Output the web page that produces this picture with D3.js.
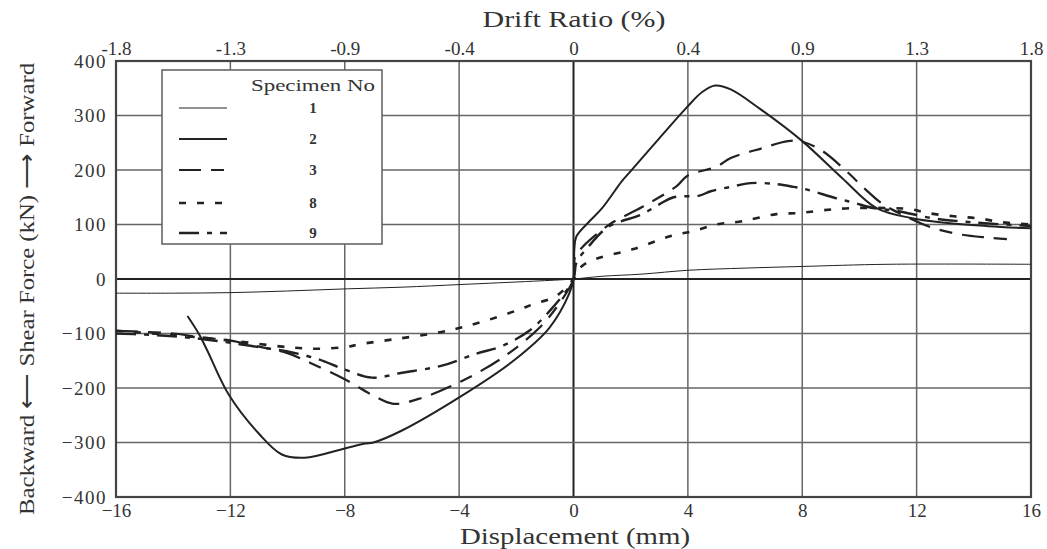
<!DOCTYPE html>
<html><head><meta charset="utf-8">
<script src="https://cdn.jsdelivr.net/npm/d3@7"></script>
<style>
html,body{margin:0;padding:0;background:#fff;}
svg{display:block;}
svg text{font-family:"Times New Roman","Liberation Serif",Tinos,serif !important;fill:#333;}
</style></head>
<body>
<svg id="chart" width="1047" height="549"></svg>
<script>
// ---- data (displacement mm, shear force kN) ----
const xTicks = [-16, -12, -8, -4, 0, 4, 8, 12, 16];
const driftLabels = ["-1.8", "-1.3", "-0.9", "-0.4", "0", "0.4", "0.9", "1.3", "1.8"];
const yTicks = [-400, -300, -200, -100, 0, 100, 200, 300, 400];
const specimens = ["1", "2", "3", "8", "9"];

const s1 = [[-16,-26],[-14,-26],[-12,-25],[-10,-22],[-7.9,-18],[-6,-15],[-3.9,-10],[-1.4,-4],[0,0],[1,5],[2.4,9],[4,16],[6,20],[8,23],[11,27],[16,27]];
const s2 = [[-13.5,-68],[-13.1,-101],[-12.8,-132],[-12.07,-211],[-11,-284],[-10.2,-322],[-9.4,-328],[-8,-311],[-7.3,-302],[-7,-300],[-6,-278],[-3.9,-214],[-2.1,-150],[-0.85,-90],[-0.15,-27],[0,0],[0.03,55],[0.1,78],[0.56,106],[1,130],[1.7,180],[2,198],[3,258],[3.93,313],[4.5,343],[4.95,355],[5.5,348],[6.5,313],[8,253],[9.4,185],[10.6,130],[11.8,112],[13,103],[14.5,97],[16,93]];
const s3 = [[-16,-95],[-15,-97],[-14,-100],[-13,-107],[-12,-113],[-11,-124],[-10,-136],[-9.2,-154],[-8,-184],[-7,-214],[-6.3,-229],[-5.3,-218],[-3.9,-187],[-2.5,-145],[-1.2,-90],[-0.5,-45],[0,0],[0.05,40],[0.3,58],[1.26,100],[2.4,132],[3.6,170],[4,190],[5,206],[5.5,222],[6.6,240],[7.5,253],[8,252],[8.7,235],[9.5,200],[10.2,165],[10.8,138],[11.5,118],[12.5,95],[13.5,82],[14.5,76],[15.5,72]];
const s8 = [[-16,-95],[-14,-103],[-12,-113],[-10,-125],[-9,-128],[-8,-125],[-7.4,-119],[-6.2,-110],[-4.8,-99],[-4,-90],[-3.1,-77],[-2,-58],[-1.4,-46],[-0.6,-31],[0,0],[0.3,24],[0.8,37],[2.1,55],[3.4,79],[4.2,88],[5,100],[5.9,106],[7.1,119],[7.9,121],[8.7,126],[9.7,130],[11.1,130],[11.8,128],[12.4,121],[13.3,115],[14.2,111],[15,104],[16,100]];
const s9 = [[-16,-100],[-15,-102],[-14,-105],[-13,-110],[-12,-117],[-11,-125],[-10,-133],[-9,-146],[-8,-166],[-7.05,-181],[-6,-172],[-4.6,-159],[-3.4,-137],[-2.5,-123],[-1.55,-95],[-0.74,-53],[0,0],[0.1,30],[0.5,58],[1.2,95],[2.4,119],[3,137],[3.5,150],[4.4,153],[4.8,161],[5.5,169],[6.2,176],[7.1,174],[7.7,169],[8.1,165],[9.2,148],[9.8,140],[10.5,130],[11.3,125],[12.5,112],[13.5,106],[14.5,102],[16,97]];

const seriesData = [s1, s2, s3, s8, s9];
const seriesStyle = [
  {w:1.0, dash:null},
  {w:2.0, dash:null},
  {w:2.2, dash:"22,10,13,10"},
  {w:2.6, dash:"7,11"},
  {w:2.4, dash:"20,8,5,8"}
];

// ---- layout ----
const svg = d3.select("#chart");
const L = 116, R = 1031, T = 61, B = 497;
const x = d3.scaleLinear().domain([-16, 16]).range([L, R]);
const y = d3.scaleLinear().domain([-400, 400]).range([B, T]);

// grid
const grid = svg.append("g");
grid.selectAll("line.v").data(xTicks).join("line")
  .attr("x1", d => x(d)).attr("x2", d => x(d)).attr("y1", T).attr("y2", B)
  .attr("stroke", d => d === 0 ? "#222" : "#666")
  .attr("stroke-width", d => d === 0 ? 2 : 1.5);
grid.selectAll("line.h").data(yTicks).join("line")
  .attr("x1", L).attr("x2", R).attr("y1", d => y(d)).attr("y2", d => y(d))
  .attr("stroke", d => d === 0 ? "#222" : "#666")
  .attr("stroke-width", d => d === 0 ? 2.2 : 1.5);

// frame
svg.append("rect").attr("x", L).attr("y", T).attr("width", R - L).attr("height", B - T)
  .attr("fill", "none").attr("stroke", "#444").attr("stroke-width", 2.2);

// axes
const axB = d3.axisBottom(x).tickValues(xTicks).tickSize(0).tickPadding(7).tickFormat(d3.format("d"));
const gB = svg.append("g").attr("transform", `translate(0,${B})`).call(axB);
const axT = d3.axisTop(x).tickValues(xTicks).tickSize(0).tickPadding(6).tickFormat((d, i) => driftLabels[i]);
const gT = svg.append("g").attr("transform", `translate(0,${T})`).call(axT);
const axL = d3.axisLeft(y).tickValues(yTicks).tickSize(0).tickPadding(9).tickFormat(d3.format("d"));
const gL = svg.append("g").attr("transform", `translate(${L},0)`).call(axL);
[gB, gT, gL].forEach(g => {
  g.select(".domain").remove();
  g.selectAll("text").attr("font-size", 19).attr("fill", "#333");
});
gL.selectAll("text").attr("letter-spacing", 1.5);

// titles
svg.append("text").attr("x", 574).attr("y", 27).attr("text-anchor", "middle")
  .attr("font-size", 23).attr("textLength", 183).attr("lengthAdjust", "spacingAndGlyphs").text("Drift Ratio (%)");
svg.append("text").attr("x", 575).attr("y", 544).attr("text-anchor", "middle")
  .attr("font-size", 23).attr("textLength", 230).attr("lengthAdjust", "spacingAndGlyphs").text("Displacement (mm)");
svg.append("text").attr("transform", "translate(34,289) rotate(-90)").attr("text-anchor", "middle")
  .attr("font-size", 22).attr("textLength", 452).attr("lengthAdjust", "spacingAndGlyphs")
  .text("Backward \u27F5 Shear Force (kN) \u27F6 Forward");

// curves
const line = d3.line().x(d => x(d[0])).y(d => y(d[1])).curve(d3.curveCatmullRom.alpha(0.5));
const gC = svg.append("g");
seriesData.forEach((s, i) => {
  gC.append("path").datum(s).attr("d", line)
    .attr("fill", "none").attr("stroke", "#222")
    .attr("stroke-width", seriesStyle[i].w)
    .attr("stroke-dasharray", seriesStyle[i].dash);
});

// legend
const lg = svg.append("g");
lg.append("rect").attr("x", 162).attr("y", 70).attr("width", 220).attr("height", 174)
  .attr("fill", "#fff").attr("stroke", "#666").attr("stroke-width", 1.6);
lg.append("text").attr("x", 313).attr("y", 91).attr("text-anchor", "middle")
  .attr("font-size", 17).attr("textLength", 124).attr("lengthAdjust", "spacingAndGlyphs").text("Specimen No");
const rowY = [108, 139, 170, 203, 233];
specimens.forEach((sp, i) => {
  lg.append("line").attr("x1", 179).attr("x2", 227).attr("y1", rowY[i]).attr("y2", rowY[i])
    .attr("stroke", "#222").attr("stroke-width", seriesStyle[i].w)
    .attr("stroke-dasharray", seriesStyle[i].dash);
  lg.append("text").attr("x", 313).attr("y", rowY[i] + 5).attr("text-anchor", "middle")
    .attr("font-size", 15).attr("font-weight", "bold").text(sp);
});
</script>
</body></html>
